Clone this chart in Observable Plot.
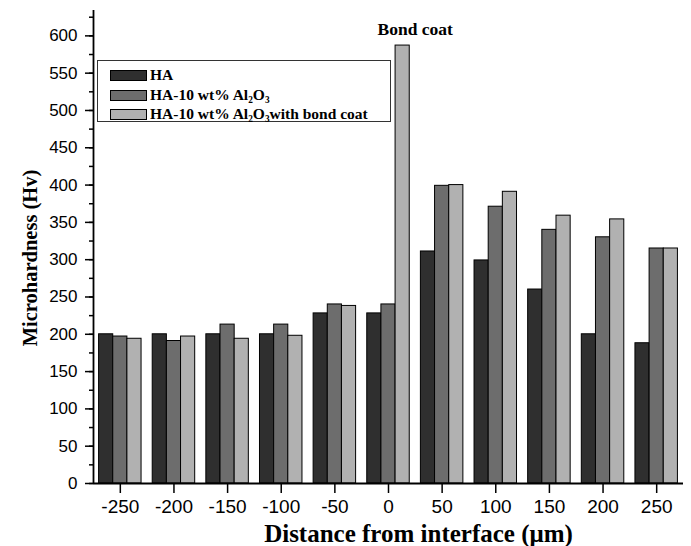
<!DOCTYPE html>
<html>
<head>
<meta charset="utf-8">
<script src="https://cdn.jsdelivr.net/npm/d3@7"></script>
<script src="https://cdn.jsdelivr.net/npm/@observablehq/plot@0.6"></script>
<style>
  html, body { margin: 0; padding: 0; background: #fff; }
  #wrap { position: relative; width: 691px; height: 546px; }
  #legend {
    position: absolute; left: 97px; top: 60px; width: 294px; height: 62px;
    border: 1px solid #333; box-sizing: border-box; background: #fff;
    font-family: "Liberation Serif", "Times New Roman", serif; font-weight: bold; font-size: 15.5px;
  }
  .row { position: absolute; left: 12px; display: flex; align-items: center; height: 18px; white-space: nowrap; }
  .sw { width: 37px; height: 11px; border: 1px solid #000; box-sizing: border-box; margin-right: 3px; }
  sub { font-size: 0.6em; vertical-align: -0.35em; line-height: 0; }
</style>
</head>
<body>
<div id="wrap"></div>
<script>
const distances = [-250, -200, -150, -100, -50, 0, 50, 100, 150, 200, 250];
const seriesNames = ["HA", "HA-10 wt% Al2O3", "HA-10 wt% Al2O3 with bond coat"];
const seriesLabelsHtml = ["HA", "HA-10 wt% Al<sub>2</sub>O<sub>3</sub>", "HA-10 wt% Al<sub>2</sub>O<sub>3</sub>with bond coat"];
const seriesColors = ["#2f2f2f", "#6d6d6d", "#b1b1b1"];
const haValues   = [200, 200, 200, 200, 228, 228, 311, 299, 260, 200, 188];
const ha10Values = [197, 191, 213, 213, 240, 240, 399, 371, 340, 330, 315];
const bondValues = [194, 197, 194, 198, 238, 587, 400, 391, 359, 354, 315];
const yTicks = d3.range(0, 601, 50);
const yMinorTicks = d3.range(0, 626, 25);
const xTicks = distances;
const annotation = "Bond coat";
const yTitle = "Microhardness (Hv)";
const xTitle = "Distance from interface (\u03bcm)";

const barW = 13.2;
const seriesValues = [haValues, ha10Values, bondValues];
const rows = [];
seriesValues.forEach((vals, si) => {
  vals.forEach((v, i) => {
    const x1 = distances[i] + (si - 1.5) * barW;
    rows.push({distance: distances[i], series: seriesNames[si], value: v, x1, x2: x1 + barW});
  });
});
const peak = rows.reduce((a, b) => (b.value > a.value ? b : a));

const serif = "'Liberation Serif', 'Times New Roman', serif";

const chart = Plot.plot({
  width: 691,
  height: 546,
  marginLeft: 93,
  marginRight: 8,
  marginTop: 10,
  marginBottom: 63,
  style: {fontFamily: "'Liberation Sans', Arial, sans-serif", fontSize: "17px", color: "#000", background: "#fff"},
  x: {domain: [-275, 275], axis: null},
  y: {domain: [0, 634], axis: null},
  color: {domain: seriesNames, range: seriesColors},
  marks: [
    Plot.rectY(rows, {x1: "x1", x2: "x2", y: "value", fill: "series", stroke: "#000", strokeWidth: 1}),
    Plot.axisX({ticks: xTicks, tickSize: 10, tickPadding: 6, tickFormat: d => String(d), fontSize: 19, label: null, strokeWidth: 1.5}),
    Plot.axisY({ticks: yTicks, tickSize: 8, tickPadding: 8, fontSize: 17, label: null, strokeWidth: 1.5}),
    Plot.axisY({ticks: yMinorTicks, tickSize: 4, tickFormat: () => "", label: null, strokeWidth: 1.5}),
    Plot.ruleX([-275], {strokeWidth: 1.8}),
    Plot.ruleY([0], {strokeWidth: 1.8}),
    Plot.text([peak], {x: "x1", y: "value", text: () => annotation, textAnchor: "start", dx: -18, dy: -16,
      fontFamily: serif, fontWeight: "bold", fontSize: 17.5}),
    Plot.text([yTitle], {frameAnchor: "left", textAnchor: "middle", rotate: -90, dx: -63, dy: 11,
      fontFamily: serif, fontWeight: "bold", fontSize: 20.5}),
    Plot.text([xTitle], {frameAnchor: "bottom", textAnchor: "middle", lineAnchor: "bottom", dx: 30, dy: 58,
      fontFamily: serif, fontWeight: "bold", fontSize: 25})
  ]
});

const wrap = document.getElementById("wrap");
wrap.appendChild(chart);

const legend = document.createElement("div");
legend.id = "legend";
const rowTops = [5, 25, 44];
seriesLabelsHtml.forEach((lab, i) => {
  const r = document.createElement("div");
  r.className = "row";
  r.style.top = rowTops[i] + "px";
  r.innerHTML = `<div class="sw" style="background:${seriesColors[i]}"></div><span>${lab}</span>`;
  legend.appendChild(r);
});
wrap.appendChild(legend);
</script>
</body>
</html>
